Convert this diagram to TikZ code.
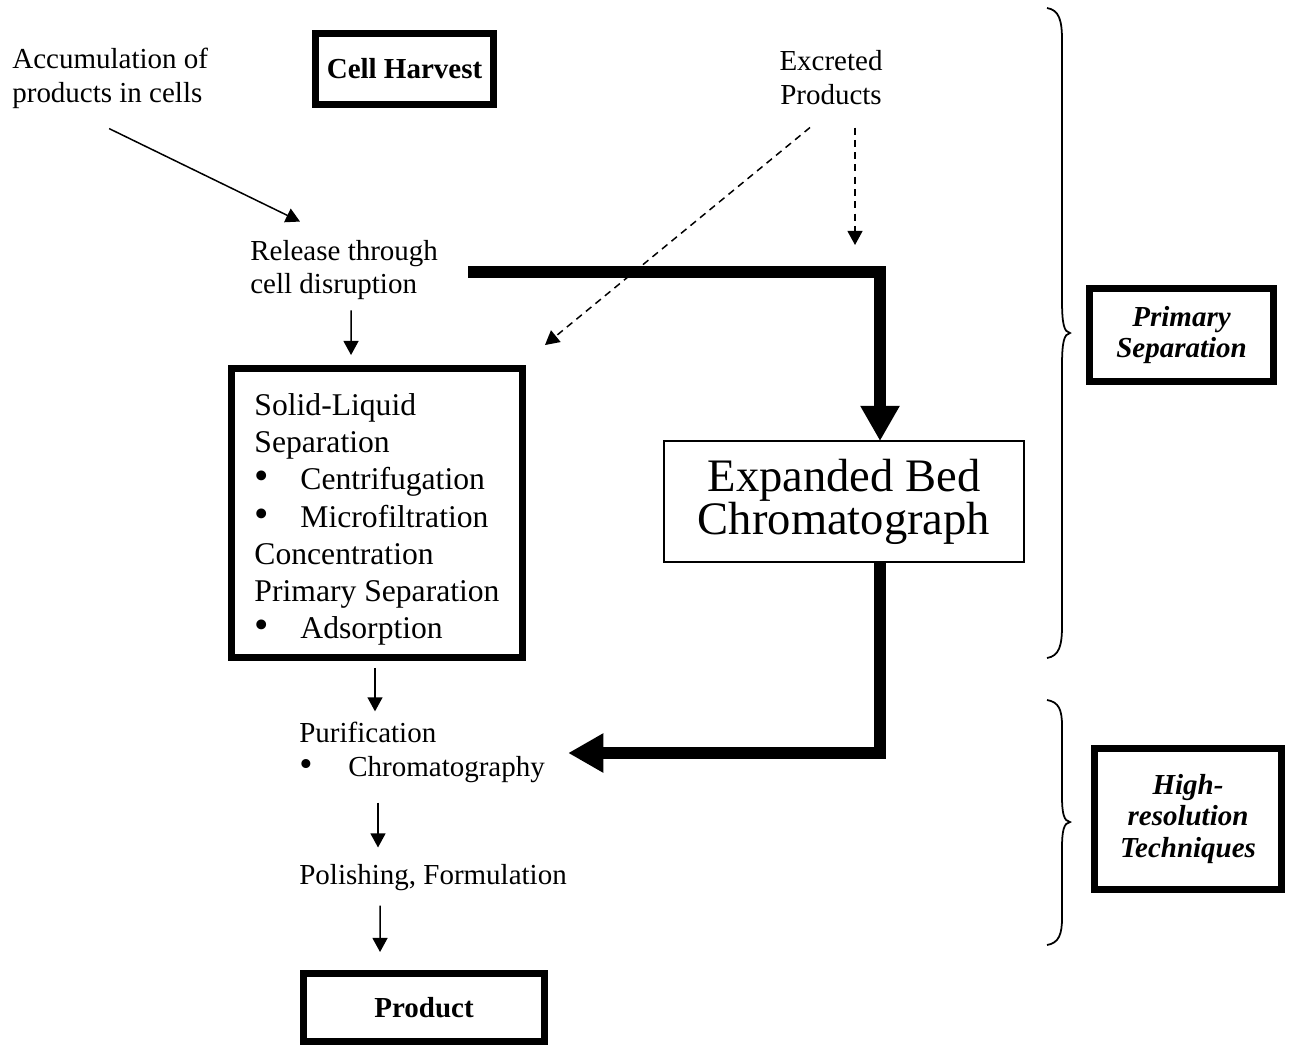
\documentclass[tikz,border=0pt]{standalone}
\usepackage{fontspec}
\usepackage{graphicx}
\setmainfont{Liberation Serif}
\usetikzlibrary{arrows.meta,calc}
\newcommand\lblfont{\fontsize{16.5}{19.3}\selectfont}
\newcommand\boxtxtfont{\fontsize{18}{21.2}\selectfont}
\newcommand\bedfont{\fontsize{26.5}{24.4}\selectfont}
\newcommand\sidefont{\fontsize{16.5}{18}\selectfont\bfseries\itshape}
\newcommand\bul[1]{\makebox[#1][l]{\scalebox{1.3}{\textbullet}}}
\tikzset{
  lbl/.style={inner sep=0pt, font=\lblfont},
  heavybox/.style={draw, line width=4pt, inner sep=0pt, outer sep=0pt, font=\lblfont\bfseries},
  thinbox/.style={draw, line width=0.9pt, inner sep=0pt, outer sep=0pt},
  arr/.style={-{Triangle[length=8pt,width=8.5pt]}, line width=0.85pt},
  dasharr/.style={arr, dash pattern=on 4pt off 3pt},
  bigarr/.style={-{Triangle[length=20pt,width=21pt]}, line width=6.8pt},
  brace/.style={line width=1pt},
}
\begin{document}
\begin{tikzpicture}[x=0.02cm,y=-0.02cm]
\useasboundingbox (0,0) rectangle (1290,1046);

% labels and boxes
\node[lbl, align=left, anchor=west] (accum) at (12,78) {Accumulation of\\products in cells};
\node[heavybox, minimum width=3.56cm, minimum height=1.42cm] (harvest) at (404.5,69) {Cell Harvest};
\node[lbl, align=center] (excr) at (831,78) {Excreted\\Products};
\node[lbl, align=left, anchor=west] (release) at (250,270) {Release through\\cell disruption};

\node[heavybox, font=\boxtxtfont, align=left, minimum width=5.82cm, minimum height=5.78cm] (solid) at (377,513)
  {\rule{0pt}{20pt}Solid-Liquid\\Separation\\\bul{0.92cm}Centrifugation\\\bul{0.92cm}Microfiltration\\Concentration\\Primary Separation\\\bul{0.92cm}Adsorption};
\node[thinbox, font=\bedfont, align=center, minimum width=7.2cm, minimum height=2.42cm] (bed) at (844,501.5)
  {Expanded Bed\\Chromatograph};

\node[lbl, align=left, anchor=west] (purif) at (299,752) {Purification\\\bul{0.98cm}Chromatography};
\node[lbl, anchor=west] (polish) at (299,878) {Polishing, Formulation};
\node[heavybox, minimum width=4.82cm, minimum height=1.36cm] (product) at (424,1007.5) {Product};

\node[heavybox, font=\sidefont, align=center, minimum width=3.68cm, minimum height=1.86cm] (prim) at (1181.5,335)
  {Primary\\Separation};
\node[heavybox, font=\sidefont, align=center, minimum width=3.74cm, minimum height=2.82cm] (hires) at (1188,819)
  {High-\\resolution\\Techniques};

\coordinate (stop) at (855,245);

% connectors
\draw[arr] ($(accum.south)+(-1,20)$) -- ($(release.north west)+(50,-18)$);
\draw[dasharr] ($(excr.south)+(-21,22)$) -- ($(solid.north east)+(22.5,-23.5)$);
\draw[dasharr] ($(excr.south)+(24,22)$) -- (stop);
\draw[arr] ($(release.south west)+(101,10)$) -- ($(solid.north west)+(119.5,-13.5)$);
\draw[bigarr] ($(release.east)+(30,2)$) -| ($(bed.north)+(36,0)$);
\draw[bigarr] ($(bed.south)+(36,0)$) |- ($(purif.east)+(23,1)$);
\draw[arr] ($(solid.south)+(-2,10.5)$) -- ($(purif.north west)+(76,-10)$);
\draw[arr] ($(purif.south west)+(79,20)$) -- ($(polish.north west)+(79,-17)$);
\draw[arr] ($(polish.south west)+(81,14)$) -- ($(product.north west)+(76.5,-21.5)$);

% braces
\draw[brace] (1047,8) .. controls (1059,10) and (1062,20) .. (1062,40) -- (1062,300)
  .. controls (1062,324) and (1064,332) .. (1070,333) .. controls (1064,334) and (1062,342) .. (1062,366)
  -- (1062,626) .. controls (1062,646) and (1059,656) .. (1047,658);
\draw[brace] (1047,700) .. controls (1059,702) and (1062,710) .. (1062,726) -- (1062,796)
  .. controls (1062,814) and (1064,821) .. (1070,822) .. controls (1064,823) and (1062,830) .. (1062,848)
  -- (1062,918) .. controls (1062,934) and (1059,943) .. (1047,945);
\end{tikzpicture}
\end{document}
